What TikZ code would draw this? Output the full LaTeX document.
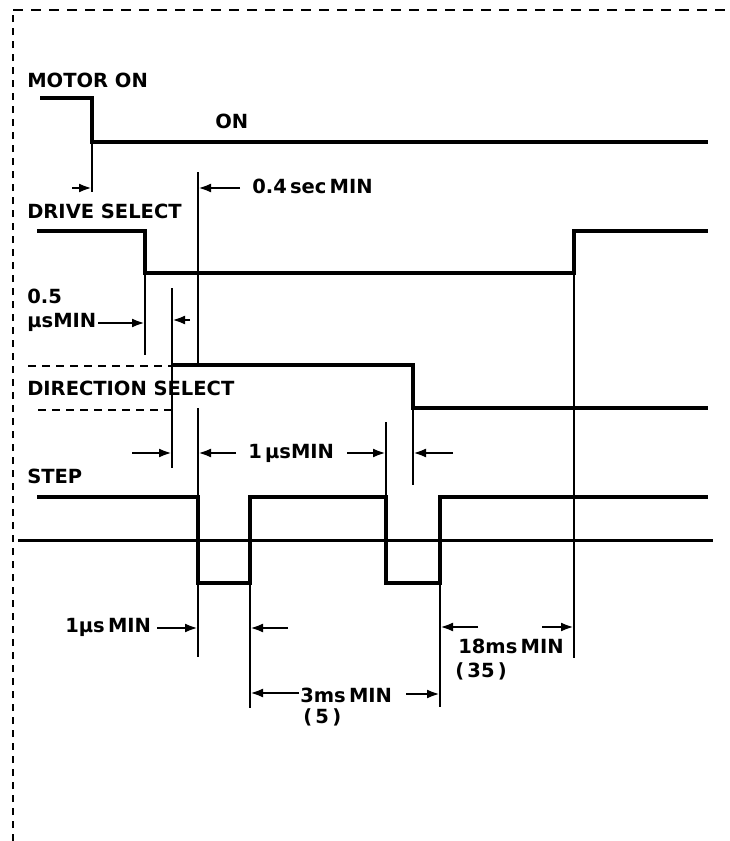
\documentclass[tikz,border=0pt]{standalone}
\usepackage{fontspec}
\setmainfont{DejaVu Sans}
\usetikzlibrary{arrows.meta}
\begin{document}
\begin{tikzpicture}[x=1pt,y=-1pt,semithick]
\tikzset{every node/.style={inner sep=0pt, anchor=base west, font=\fontsize{19.5}{21}\selectfont\bfseries}}
\tikzstyle{sig}=[line width=4.6pt]
\tikzstyle{half}=[line width=2.6pt, dash pattern=on 8pt off 6pt]
\tikzstyle{tick}=[line width=2pt]
\tikzstyle{base}=[line width=3pt]
\tikzstyle{dim}=[line width=2.6pt, -{Latex[length=13pt,width=9pt]}]
\tikzstyle{frame}=[line width=2.6pt, dash pattern=on 10pt off 8pt]
\tikzstyle{sideframe}=[line width=2.6pt, dash pattern=on 7pt off 6pt]
\useasboundingbox (0,0) rectangle (730,841);
% frame
\coordinate (f0) at (13,841);
\coordinate (f1) at (13,10);
\coordinate (f2) at (730,10);
\draw[sideframe] (f0) -- (f1);
\draw[frame] (f1) -- (f2);
% labels
\node (motor) at (27,87) {MOTOR ON};
\node (on) at (215,128) {ON};
\node (drive) at (27,218) {DRIVE SELECT};
\node (half1) at (27,303) {0.5};
\node (half2) at (27,327) {µsMIN};
\node (dir) at (27,395) {DIRECTION SELECT};
\node (step) at (27,483) {STEP};
\node (sec) at (252,193) {0.4\,sec\,MIN};
\node (us1) at (248,458) {1\,µsMIN};
\node (us2) at (65,632) {1µs\,MIN};
\node (ms3) at (300,702) {3ms\,MIN};
\node (ms3b) at (303,723) {(\,5\,)};
\node (ms18) at (458,653) {18ms\,MIN};
\node (ms18b) at (455,677) {(\,35\,)};
% signals
\coordinate (m0) at (40,98);   \coordinate (m1) at (92,98);
\coordinate (m2) at (92,142);  \coordinate (m3) at (708,142);
\draw[sig] (m0) -- (m1) -- (m2) -- (m3);
\coordinate (d0) at (37,231);  \coordinate (d1) at (145,231);
\coordinate (d2) at (145,273); \coordinate (d3) at (574,273);
\coordinate (d4) at (574,231); \coordinate (d5) at (708,231);
\draw[sig] (d0) -- (d1) -- (d2) -- (d3) -- (d4) -- (d5);
\coordinate (r0) at (172,365); \coordinate (r1) at (413,365);
\coordinate (r2) at (413,408); \coordinate (r3) at (708,408);
\draw[sig] (r0) -- (r1) -- (r2) -- (r3);
\coordinate (rh) at (28,366);  \coordinate (rh1) at (172,366);
\coordinate (rl) at (38,410);  \coordinate (rl1) at (172,410);
\draw[half] (rh) -- (rh1);
\draw[half] (rl) -- (rl1);
\coordinate (s0) at (37,497);  \coordinate (s1) at (198,497);
\coordinate (s2) at (198,583); \coordinate (s3) at (250,583);
\coordinate (s4) at (250,497); \coordinate (s5) at (386,497);
\coordinate (s6) at (386,583); \coordinate (s7) at (440,583);
\coordinate (s8) at (440,497); \coordinate (s9) at (708,497);
\draw[sig] (s0) -- (s1) -- (s2) -- (s3) -- (s4) -- (s5) -- (s6) -- (s7) -- (s8) -- (s9);
\coordinate (b0) at (18,540);  \coordinate (b1) at (713,540);
\draw[base] (b0) -- (b1);
% timing lines
\coordinate (m2x) at (92,192);
\draw[tick] (m2) -- (m2x);
\coordinate (k0) at (198,172); \coordinate (k1) at (198,364);
\coordinate (k2) at (198,408); \coordinate (s2x) at (198,657);
\draw[tick] (k0) -- (k1);
\draw[tick] (k2) -- (s1);
\draw[tick] (s2) -- (s2x);
\coordinate (d2x) at (145,355);
\draw[tick] (d2) -- (d2x);
\coordinate (r0a) at (172,288); \coordinate (r0x) at (172,468);
\draw[tick] (r0a) -- (r0x);
\coordinate (s3x) at (250,708);
\draw[tick] (s3) -- (s3x);
\coordinate (s5a) at (386,422);
\draw[tick] (s5a) -- (s5);
\coordinate (r2x) at (413,485);
\draw[tick] (r2) -- (r2x);
\coordinate (s7x) at (440,707);
\draw[tick] (s7) -- (s7x);
\coordinate (d3x) at (574,658);
\draw[tick] (d3) -- (d3x);
% arrows
\coordinate (a1) at (72,188);  \coordinate (a1e) at (92,188);
\coordinate (a2) at (240,188); \coordinate (a2e) at (198,188);
\coordinate (a3) at (98,323);  \coordinate (a3e) at (145,323);
\coordinate (a4) at (190,320); \coordinate (a4e) at (172,320);
\coordinate (a5) at (132,453); \coordinate (a5e) at (172,453);
\coordinate (a6) at (236,453); \coordinate (a6e) at (198,453);
\coordinate (a7) at (347,453); \coordinate (a7e) at (386,453);
\coordinate (a8) at (453,453); \coordinate (a8e) at (413,453);
\coordinate (a9) at (157,628); \coordinate (a9e) at (198,628);
\coordinate (a10) at (288,628); \coordinate (a10e) at (250,628);
\coordinate (a11) at (299,693); \coordinate (a11e) at (250,693);
\coordinate (a12) at (406,694); \coordinate (a12e) at (440,694);
\coordinate (a13) at (478,627); \coordinate (a13e) at (440,627);
\coordinate (a14) at (542,627); \coordinate (a14e) at (574,627);
\draw[dim] (a1) -- (a1e);
\draw[dim] (a2) -- (a2e);
\draw[dim] (a3) -- (a3e);
\draw[dim] (a4) -- (a4e);
\draw[dim] (a5) -- (a5e);
\draw[dim] (a6) -- (a6e);
\draw[dim] (a7) -- (a7e);
\draw[dim] (a8) -- (a8e);
\draw[dim] (a9) -- (a9e);
\draw[dim] (a10) -- (a10e);
\draw[dim] (a11) -- (a11e);
\draw[dim] (a12) -- (a12e);
\draw[dim] (a13) -- (a13e);
\draw[dim] (a14) -- (a14e);
\end{tikzpicture}
\end{document}
